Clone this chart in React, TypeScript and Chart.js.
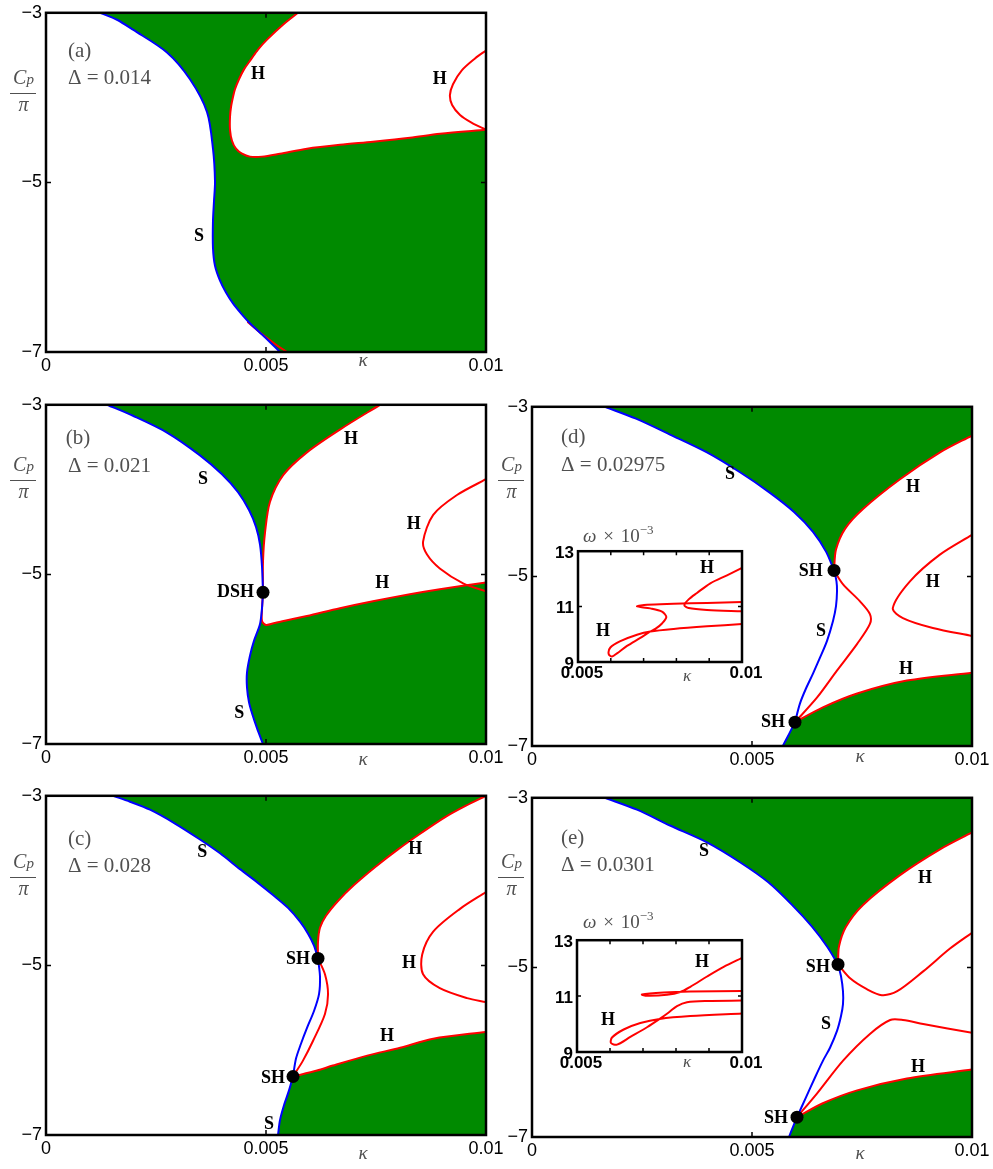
import React, { useEffect, useRef } from 'react';
import { Chart, registerables } from 'chart.js';
Chart.register(...registerables);

type P = [number, number];

const GREEN = '#008a00';
const RED = '#ff0000';
const BLUE = '#0000ff';
const GRAY = '#505050';
const TENSION = 0.3;
const SERIF = '"Liberation Serif", "Times New Roman", serif';

// ---------- axes ----------
const X_TICKS = [0, 0.005, 0.01];
const X_TICK_LABELS = ['0', '0.005', '0.01'];
const Y_TICKS = [-3, -5, -7];
const Y_TICK_LABELS = ['\u22123', '\u22125', '\u22127'];
const INSET_X_TICKS = [0.005, 0.006, 0.007, 0.008, 0.009, 0.01];
const INSET_X_TICK_LABELS = ['0.005', '', '', '', '', '0.01'];
const INSET_Y_TICKS = [9, 11, 13];
const INSET_Y_TICK_LABELS = ['9', '11', '13'];

// ---------- panel (a) Δ = 0.014 ----------
const aBlueS: P[] = [[0.001227,-3.0],[0.001614,-3.082],[0.001977,-3.199],[0.00275,-3.468],[0.003273,-3.784],[0.003659,-4.17],[0.003795,-4.602],[0.003841,-4.988],[0.003818,-5.222],[0.003795,-5.456],[0.003795,-5.772],[0.003841,-5.982],[0.003955,-6.158],[0.004091,-6.298],[0.00425,-6.427],[0.004432,-6.544],[0.004636,-6.661],[0.004977,-6.825],[0.005318,-7.0]];
const aRedTail: P[] = [[0.004591,-6.649],[0.004909,-6.789],[0.005205,-6.906],[0.005477,-7.0]];
const aRedH1: P[] = [[0.005727,-3.0],[0.005386,-3.14],[0.005023,-3.316],[0.004818,-3.433],[0.004659,-3.55],[0.0045,-3.667],[0.004386,-3.784],[0.004295,-3.901],[0.00425,-3.994],[0.004205,-4.111],[0.004182,-4.228],[0.004182,-4.38],[0.004227,-4.509],[0.004318,-4.602],[0.004455,-4.661],[0.004636,-4.696],[0.004909,-4.696],[0.005318,-4.661],[0.005932,-4.602],[0.006682,-4.556],[0.007432,-4.52],[0.008273,-4.474],[0.008955,-4.427],[0.01,-4.38]];
const aRedH2: P[] = [[0.01,-3.444],[0.00975,-3.538],[0.00945,-3.678],[0.00925,-3.842],[0.00918,-3.971],[0.00923,-4.088],[0.00941,-4.205],[0.00968,-4.298],[0.01,-4.38]];

// ---------- panel (b) Δ = 0.021 ----------
const bBlueUp: P[] = [[0.001386,-3.0],[0.001977,-3.129],[0.00275,-3.327],[0.0035,-3.596],[0.004,-3.819],[0.004364,-4.029],[0.004614,-4.24],[0.004773,-4.439],[0.004864,-4.649],[0.004909,-4.906],[0.004932,-5.211]];
const bBlueLow: P[] = [[0.004932,-5.211],[0.004909,-5.398],[0.004864,-5.585],[0.004727,-5.784],[0.004636,-5.959],[0.004568,-6.158],[0.004568,-6.333],[0.004614,-6.509],[0.004682,-6.637],[0.004795,-6.813],[0.004932,-7.0]];
const bRedUp: P[] = [[0.00759,-3.0],[0.00668,-3.292],[0.00593,-3.561],[0.00539,-3.83],[0.00509,-4.146],[0.00498,-4.497],[0.004932,-4.848],[0.004932,-5.211]];
const bRedLow: P[] = [[0.004932,-5.211],[0.00491,-5.409],[0.00491,-5.55],[0.005,-5.596],[0.0052,-5.573],[0.00593,-5.491],[0.00668,-5.398],[0.00743,-5.316],[0.00827,-5.234],[0.00895,-5.175],[0.01,-5.094]];
const bRedRight: P[] = [[0.01,-3.877],[0.00934,-4.064],[0.0088,-4.298],[0.00857,-4.614],[0.00866,-4.766],[0.00895,-4.93],[0.00948,-5.105],[0.01,-5.199]];
const bDots: P[] = [[0.004932,-5.211]];

// ---------- panel (c) Δ = 0.028 ----------
const cBlueUp: P[] = [[0.001523,-3.0],[0.001909,-3.07],[0.002364,-3.164],[0.002932,-3.327],[0.0035,-3.515],[0.003955,-3.678],[0.004409,-3.865],[0.004795,-4.018],[0.005159,-4.17],[0.0055,-4.322],[0.005773,-4.485],[0.005955,-4.626],[0.006091,-4.766],[0.006182,-4.918]];
const cBlueMid: P[] = [[0.006182,-4.918],[0.006227,-5.129],[0.006205,-5.339],[0.006091,-5.538],[0.005932,-5.737],[0.005795,-5.924],[0.005682,-6.099],[0.005614,-6.31]];
const cBlueBot: P[] = [[0.005614,-6.31],[0.005523,-6.474],[0.005409,-6.649],[0.005318,-6.825],[0.005273,-7.0]];
const cRedUp: P[] = [[0.01,-3.0],[0.009545,-3.117],[0.009091,-3.246],[0.008545,-3.433],[0.008,-3.632],[0.007477,-3.842],[0.007,-4.053],[0.006636,-4.24],[0.006364,-4.415],[0.006227,-4.556],[0.006182,-4.719],[0.006182,-4.918]];
const cRedWiggle: P[] = [[0.006182,-4.918],[0.00634,-5.105],[0.00641,-5.339],[0.00634,-5.573],[0.00607,-5.889],[0.00584,-6.123],[0.005614,-6.31]];
const cRedLow: P[] = [[0.005614,-6.31],[0.00616,-6.24],[0.00652,-6.181],[0.0073,-6.064],[0.00805,-5.971],[0.0088,-5.865],[0.01,-5.784]];
const cRedRight: P[] = [[0.01,-4.135],[0.00941,-4.333],[0.0088,-4.602],[0.00855,-4.871],[0.00857,-5.105],[0.00895,-5.269],[0.00957,-5.386],[0.01,-5.433]];
const cDots: P[] = [[0.006182,-4.918],[0.005614,-6.31]];

// ---------- panel (d) Δ = 0.02975 ----------
const dBlueUp: P[] = [[0.001659,-3.0],[0.002364,-3.14],[0.003136,-3.327],[0.003977,-3.538],[0.004727,-3.772],[0.005386,-4.006],[0.005955,-4.24],[0.006386,-4.474],[0.006682,-4.708],[0.006864,-4.93]];
const dBlueMid: P[] = [[0.006864,-4.93],[0.00692,-5.058],[0.006932,-5.175],[0.006909,-5.351],[0.006841,-5.526],[0.006705,-5.76],[0.006545,-5.959],[0.006386,-6.146],[0.006227,-6.322],[0.006091,-6.497],[0.005977,-6.719]];
const dBlueBot: P[] = [[0.005977,-6.719],[0.005841,-6.86],[0.0057,-7.0]];
const dRedUp: P[] = [[0.01,-3.339],[0.009273,-3.538],[0.008364,-3.854],[0.007523,-4.205],[0.007114,-4.439],[0.006909,-4.684],[0.006864,-4.93]];
const dRedMid: P[] = [[0.006864,-4.93],[0.00707,-5.094],[0.00745,-5.292],[0.00768,-5.444],[0.00768,-5.561],[0.00739,-5.795],[0.00693,-6.111],[0.00648,-6.427],[0.005977,-6.719]];
const dRedLow: P[] = [[0.005977,-6.719],[0.00661,-6.544],[0.00739,-6.38],[0.00852,-6.228],[0.01,-6.135]];
const dRedRight: P[] = [[0.01,-4.509],[0.00927,-4.743],[0.00859,-5.058],[0.0082,-5.374],[0.00843,-5.491],[0.00911,-5.608],[0.01,-5.702]];
const dDots: P[] = [[0.006864,-4.93],[0.005977,-6.719]];

// ---------- panel (e) Δ = 0.0301 ----------
const eBlueUp: P[] = [[0.001659,-3.0],[0.002386,-3.14],[0.003136,-3.327],[0.003977,-3.526],[0.004727,-3.76],[0.005364,-3.994],[0.005909,-4.263],[0.006364,-4.52],[0.006705,-4.754],[0.006955,-4.965]];
const eBlueMid: P[] = [[0.006955,-4.965],[0.007023,-5.105],[0.007068,-5.281],[0.007068,-5.433],[0.007023,-5.573],[0.006932,-5.749],[0.006773,-5.947],[0.006614,-6.099],[0.006432,-6.298],[0.006227,-6.532],[0.006023,-6.766]];
const eBlueBot: P[] = [[0.006023,-6.766],[0.005932,-6.88],[0.005841,-7.0]];
const eRedUp: P[] = [[0.01,-3.409],[0.009273,-3.608],[0.008364,-3.912],[0.007523,-4.263],[0.007136,-4.52],[0.006977,-4.754],[0.006955,-4.965]];
const eRedMidUp: P[] = [[0.006955,-4.965],[0.00723,-5.129],[0.00761,-5.257],[0.00795,-5.327],[0.0083,-5.281],[0.00889,-5.047],[0.0095,-4.778],[0.01,-4.591]];
const eRedMidLow: P[] = [[0.006023,-6.766],[0.00648,-6.485],[0.00707,-6.099],[0.00768,-5.784],[0.00814,-5.62],[0.00843,-5.62],[0.00889,-5.667],[0.01,-5.772]];
const eRedLow: P[] = [[0.006023,-6.766],[0.00661,-6.602],[0.00739,-6.45],[0.00852,-6.31],[0.01,-6.205]];
const eDots: P[] = [[0.006955,-4.965],[0.006023,-6.766]];

// ---------- insets: ω (×10^-3) vs κ ----------
const insetD1: P[] = [[0.01,12.397],[0.009543,12.13],[0.009035,11.841],[0.008628,11.493],[0.008374,11.261],[0.008242,11.052],[0.008374,10.948],[0.008933,10.878],[0.01,10.832]];
const insetD2: P[] = [[0.01,11.168],[0.008933,11.133],[0.007917,11.099],[0.007104,11.064],[0.006799,11.006],[0.007205,10.936],[0.007561,10.82],[0.007693,10.623],[0.007561,10.391],[0.007358,10.194],[0.007205,10.101],[0.0069,9.87],[0.006494,9.58],[0.006189,9.313],[0.006037,9.197],[0.005935,9.29],[0.005986,9.522],[0.006291,9.754],[0.006799,9.986],[0.007205,10.101],[0.007917,10.194],[0.008933,10.287],[0.01,10.368]];
const insetE1: P[] = [[0.01,11.184],[0.008434,11.161],[0.007626,11.126],[0.00697,11.057],[0.007121,11.012],[0.007727,11.046],[0.008131,11.149],[0.008434,11.333],[0.00894,11.701],[0.009444,12.046],[0.01,12.368]];
const insetE2: P[] = [[0.01,10.839],[0.00894,10.828],[0.008333,10.782],[0.00803,10.644],[0.007778,10.414],[0.007505,10.184],[0.007121,9.885],[0.006616,9.54],[0.006212,9.264],[0.00603,9.322],[0.006061,9.517],[0.006414,9.805],[0.006919,10.035],[0.007505,10.184],[0.008434,10.287],[0.01,10.379]];

// frame corners used to close the shaded regions
const CORNER_BR: P[] = [[0.01, -7]];
const CORNER_TR: P[] = [[0.01, -3]];

type Label = { text: string; x: number; y: number; kind?: 'tag' | 'bold'; align?: 'left' | 'center' | 'right' };

const aLabels: Label[] = [
  { text: '(a)', x: 0.0005, y: -3.456, kind: 'tag', align: 'left' },
  { text: '\u0394 = 0.014', x: 0.0005, y: -3.778, kind: 'tag', align: 'left' },
  { text: 'H', x: 0.00482, y: -3.725 },
  { text: 'H', x: 0.00895, y: -3.784 },
  { text: 'S', x: 0.00348, y: -5.632 },
];
const bLabels: Label[] = [
  { text: '(b)', x: 0.00045, y: -3.398, kind: 'tag', align: 'left' },
  { text: '\u0394 = 0.021', x: 0.0005, y: -3.725, kind: 'tag', align: 'left' },
  { text: 'S', x: 0.00357, y: -3.877 },
  { text: 'H', x: 0.00693, y: -3.409 },
  { text: 'H', x: 0.00836, y: -4.415 },
  { text: 'H', x: 0.00764, y: -5.105 },
  { text: 'DSH', x: 0.00473, y: -5.211, align: 'right' },
  { text: 'S', x: 0.00439, y: -6.637 },
];
const cLabels: Label[] = [
  { text: '(c)', x: 0.0005, y: -3.515, kind: 'tag', align: 'left' },
  { text: '\u0394 = 0.028', x: 0.0005, y: -3.83, kind: 'tag', align: 'left' },
  { text: 'S', x: 0.00355, y: -3.67 },
  { text: 'H', x: 0.00839, y: -3.632 },
  { text: 'H', x: 0.00825, y: -4.977 },
  { text: 'H', x: 0.00775, y: -5.842 },
  { text: 'SH', x: 0.006, y: -4.93, align: 'right' },
  { text: 'SH', x: 0.00543, y: -6.333, align: 'right' },
  { text: 'S', x: 0.00507, y: -6.871 },
];
const dLabels: Label[] = [
  { text: '(d)', x: 0.00066, y: -3.363, kind: 'tag', align: 'left' },
  { text: '\u0394 = 0.02975', x: 0.00066, y: -3.69, kind: 'tag', align: 'left' },
  { text: 'S', x: 0.0045, y: -3.795 },
  { text: 'H', x: 0.00866, y: -3.947 },
  { text: 'H', x: 0.00911, y: -5.07 },
  { text: 'S', x: 0.00657, y: -5.643 },
  { text: 'H', x: 0.0085, y: -6.099 },
  { text: 'SH', x: 0.00661, y: -4.942, align: 'right' },
  { text: 'SH', x: 0.00575, y: -6.719, align: 'right' },
];
const eLabels: Label[] = [
  { text: '(e)', x: 0.00066, y: -3.48, kind: 'tag', align: 'left' },
  { text: '\u0394 = 0.0301', x: 0.00066, y: -3.795, kind: 'tag', align: 'left' },
  { text: 'S', x: 0.00391, y: -3.632 },
  { text: 'H', x: 0.00893, y: -3.947 },
  { text: 'S', x: 0.00668, y: -5.667 },
  { text: 'H', x: 0.00877, y: -6.181 },
  { text: 'SH', x: 0.00677, y: -5.0, align: 'right' },
  { text: 'SH', x: 0.00582, y: -6.778, align: 'right' },
];
const insetDLabels: Label[] = [
  { text: 'H', x: 0.00893, y: 12.37 },
  { text: 'H', x: 0.00576, y: 10.11 },
];
const insetELabels: Label[] = [
  { text: 'H', x: 0.00879, y: 12.21 },
  { text: 'H', x: 0.00594, y: 10.14 },
];

// ---------- helpers ----------
const piece = (a: P[]): P[] => [a[0], ...a, a[a.length - 1]];
const shape = (...parts: P[][]): P[] => parts.flatMap(piece);
const rev = (a: P[]): P[] => [...a].reverse();
const toXY = (a: P[]) => a.map(([x, y]) => ({ x, y }));

type Spec = { regions: P[][]; lines: { data: P[]; color: string }[]; dots: P[]; labels: Label[] };

const specA: Spec = {
  regions: [shape(aBlueS, CORNER_BR, rev(aRedH1))],
  lines: [{ data: aBlueS, color: BLUE }, { data: aRedTail, color: RED }, { data: aRedH1, color: RED }, { data: aRedH2, color: RED }],
  dots: [],
  labels: aLabels,
};
const specB: Spec = {
  regions: [shape(bBlueUp, rev(bRedUp)), shape(bRedLow, CORNER_BR, rev(bBlueLow))],
  lines: [{ data: bBlueUp, color: BLUE }, { data: bBlueLow, color: BLUE }, { data: bRedUp, color: RED }, { data: bRedLow, color: RED }, { data: bRedRight, color: RED }],
  dots: bDots,
  labels: bLabels,
};
const specC: Spec = {
  regions: [shape(cBlueUp, rev(cRedUp)), shape(cRedLow, CORNER_BR, rev(cBlueBot))],
  lines: [{ data: cBlueUp, color: BLUE }, { data: cBlueMid, color: BLUE }, { data: cBlueBot, color: BLUE }, { data: cRedUp, color: RED }, { data: cRedWiggle, color: RED }, { data: cRedLow, color: RED }, { data: cRedRight, color: RED }],
  dots: cDots,
  labels: cLabels,
};
const specD: Spec = {
  regions: [shape(dBlueUp, rev(dRedUp), CORNER_TR), shape(dRedLow, CORNER_BR, rev(dBlueBot))],
  lines: [{ data: dBlueUp, color: BLUE }, { data: dBlueMid, color: BLUE }, { data: dBlueBot, color: BLUE }, { data: dRedUp, color: RED }, { data: dRedMid, color: RED }, { data: dRedLow, color: RED }, { data: dRedRight, color: RED }],
  dots: dDots,
  labels: dLabels,
};
const specE: Spec = {
  regions: [shape(eBlueUp, rev(eRedUp), CORNER_TR), shape(eRedLow, CORNER_BR, rev(eBlueBot))],
  lines: [{ data: eBlueUp, color: BLUE }, { data: eBlueMid, color: BLUE }, { data: eBlueBot, color: BLUE }, { data: eRedUp, color: RED }, { data: eRedMidUp, color: RED }, { data: eRedMidLow, color: RED }, { data: eRedLow, color: RED }],
  dots: eDots,
  labels: eLabels,
};
const specInsetD: Spec = { regions: [], lines: [{ data: insetD1, color: RED }, { data: insetD2, color: RED }], dots: [], labels: insetDLabels };
const specInsetE: Spec = { regions: [], lines: [{ data: insetE1, color: RED }, { data: insetE2, color: RED }], dots: [], labels: insetELabels };

type Axes = {
  xMin: number; xMax: number; yMin: number; yMax: number;
  xTicks: number[]; xLabels: string[]; yTicks: number[]; yLabels: string[];
  fontSize: number; fontWeight: string; yAxisW: number; xAxisH: number; padTop: number; padRight: number;
  xPad: number; yPad: number; xLabelOffset: number; yLabelOffset: number;
  frameW: number; tickLen: number; whiteBg: boolean;
};

const MAIN_AXES: Axes = {
  xMin: 0, xMax: 0.01, yMin: -7, yMax: -3,
  xTicks: X_TICKS, xLabels: X_TICK_LABELS, yTicks: Y_TICKS, yLabels: Y_TICK_LABELS,
  fontSize: 18, fontWeight: 'normal', yAxisW: 46, xAxisH: 40, padTop: 12, padRight: 32,
  xPad: 3, yPad: 4, xLabelOffset: 0, yLabelOffset: 0, frameW: 2.5, tickLen: 5, whiteBg: false,
};
const INSET_AXES: Axes = {
  xMin: 0.005, xMax: 0.01, yMin: 9, yMax: 13,
  xTicks: INSET_X_TICKS, xLabels: INSET_X_TICK_LABELS, yTicks: INSET_Y_TICKS, yLabels: INSET_Y_TICK_LABELS,
  fontSize: 17, fontWeight: 'bold', yAxisW: 40, xAxisH: 24, padTop: 10, padRight: 24,
  xPad: 1, yPad: 4, xLabelOffset: 4, yLabelOffset: 2, frameW: 2.5, tickLen: 4, whiteBg: true,
};

function createChart(canvas: HTMLCanvasElement, spec: Spec, ax: Axes) {
  const datasets: any[] = [];
  for (const r of spec.regions) {
    datasets.push({ data: toXY(r), showLine: true, fill: 'shape', backgroundColor: GREEN, borderWidth: 0, pointRadius: 0, tension: TENSION, order: 3 });
  }
  for (const l of spec.lines) {
    datasets.push({ data: toXY(l.data), showLine: true, fill: false, borderColor: l.color, backgroundColor: l.color, borderWidth: 2, pointRadius: 0, tension: TENSION, order: 2, borderCapStyle: 'round', borderJoinStyle: 'round' });
  }
  if (spec.dots.length) {
    datasets.push({ data: toXY(spec.dots), showLine: false, pointRadius: 6.5, pointBackgroundColor: '#000', pointBorderWidth: 0, backgroundColor: '#000', order: 1 });
  }
  const overlay = {
    id: 'overlay',
    beforeDatasetsDraw(chart: any) {
      if (!ax.whiteBg) return;
      const { ctx, chartArea: a } = chart;
      ctx.save();
      ctx.fillStyle = '#fff';
      ctx.fillRect(a.left, a.top, a.right - a.left, a.bottom - a.top);
      ctx.restore();
    },
    afterDatasetsDraw(chart: any) {
      const { ctx, chartArea: a, scales } = chart;
      ctx.save();
      ctx.strokeStyle = '#000';
      ctx.lineWidth = 1.5;
      ctx.beginPath();
      for (const v of ax.xTicks) {
        const px = scales.x.getPixelForValue(v);
        ctx.moveTo(px, a.bottom); ctx.lineTo(px, a.bottom - ax.tickLen);
        ctx.moveTo(px, a.top); ctx.lineTo(px, a.top + ax.tickLen);
      }
      for (const v of ax.yTicks) {
        const py = scales.y.getPixelForValue(v);
        ctx.moveTo(a.left, py); ctx.lineTo(a.left + ax.tickLen, py);
        ctx.moveTo(a.right, py); ctx.lineTo(a.right - ax.tickLen, py);
      }
      ctx.stroke();
      ctx.lineWidth = ax.frameW;
      ctx.strokeRect(a.left, a.top, a.right - a.left, a.bottom - a.top);
      ctx.textBaseline = 'middle';
      for (const lb of spec.labels) {
        const px = scales.x.getPixelForValue(lb.x);
        const py = scales.y.getPixelForValue(lb.y);
        if (lb.kind === 'tag') {
          ctx.font = `21px ${SERIF}`;
          ctx.fillStyle = GRAY;
        } else {
          ctx.font = `bold 18px ${SERIF}`;
          ctx.fillStyle = '#000';
        }
        ctx.textAlign = lb.align || 'center';
        ctx.fillText(lb.text, px, py);
      }
      ctx.restore();
    },
  };
  const tickFont = { family: '"Liberation Sans", Arial, sans-serif', size: ax.fontSize, weight: ax.fontWeight };
  return new Chart(canvas, {
    type: 'scatter',
    data: { datasets },
    options: {
      responsive: false,
      animation: false,
      devicePixelRatio: 1,
      events: [],
      layout: { padding: { left: 0, top: ax.padTop, right: ax.padRight, bottom: 0 } },
      elements: { line: { capBezierPoints: false } },
      plugins: { legend: { display: false }, tooltip: { enabled: false }, title: { display: false } },
      scales: {
        x: {
          type: 'linear', min: ax.xMin, max: ax.xMax,
          afterBuildTicks: (s: any) => { s.ticks = ax.xTicks.map((v) => ({ value: v })); },
          afterFit: (s: any) => { s.height = ax.xAxisH; },
          ticks: {
            autoSkip: false, maxRotation: 0, minRotation: 0, padding: ax.xPad, color: '#000',
            font: tickFont, labelOffset: ax.xLabelOffset,
            callback: (_v: any, i: number) => ax.xLabels[i],
          },
          grid: { display: false, drawTicks: false },
          border: { display: false },
        },
        y: {
          type: 'linear', min: ax.yMin, max: ax.yMax,
          afterBuildTicks: (s: any) => { s.ticks = ax.yTicks.map((v) => ({ value: v })); },
          afterFit: (s: any) => { s.width = ax.yAxisW; },
          ticks: {
            autoSkip: false, padding: ax.yPad, color: '#000',
            font: tickFont, labelOffset: ax.yLabelOffset,
            callback: (_v: any, i: number) => ax.yLabels[i],
          },
          grid: { display: false, drawTicks: false },
          border: { display: false },
        },
      },
    } as any,
    plugins: [overlay as any],
  });
}

function ChartCanvas({ L, T, W, H, spec, ax }: { L: number; T: number; W: number; H: number; spec: Spec; ax: Axes }) {
  const ref = useRef<HTMLCanvasElement>(null);
  const cw = ax.yAxisW + W + ax.padRight;
  const ch = ax.padTop + H + ax.xAxisH;
  useEffect(() => {
    const chart = createChart(ref.current!, spec, ax);
    return () => chart.destroy();
  }, []);
  return (
    <canvas
      ref={ref}
      width={cw}
      height={ch}
      style={{ position: 'absolute', left: L - ax.yAxisW, top: T - ax.padTop, width: cw, height: ch }}
    />
  );
}

function Frac({ left, barY }: { left: number; barY: number }) {
  const base: React.CSSProperties = { position: 'absolute', left, width: 25, textAlign: 'center', fontFamily: SERIF, fontStyle: 'italic', fontSize: 20, lineHeight: '20px', color: GRAY, whiteSpace: 'nowrap' };
  return (
    <>
      <div style={{ ...base, top: barY - 26 }}>C<span style={{ fontSize: 15 }}>p</span></div>
      <div style={{ position: 'absolute', left: left - 1, top: barY, width: 26, height: 0, borderTop: `1px solid ${GRAY}` }} />
      <div style={{ ...base, top: barY + 1 }}>π</div>
    </>
  );
}

function Kappa({ cx, cy, size = 19 }: { cx: number; cy: number; size?: number }) {
  return (
    <div style={{ position: 'absolute', left: cx - 10, top: cy - size * 0.61, width: 20, textAlign: 'center', fontFamily: SERIF, fontStyle: 'italic', fontSize: size, lineHeight: `${size}px`, color: GRAY }}>κ</div>
  );
}

function OmegaTitle({ left, baseline }: { left: number; baseline: number }) {
  return (
    <div style={{ position: 'absolute', left, top: baseline - 15.9, fontFamily: SERIF, fontSize: 19, lineHeight: '19px', color: GRAY, whiteSpace: 'nowrap', wordSpacing: 2 }}>
      <i>ω</i> × 10<span style={{ position: 'relative', top: -8, fontSize: 13 }}>−3</span>
    </div>
  );
}

export default function App() {
  return (
    <div style={{ position: 'absolute', left: 0, top: 0, width: 993, height: 1169, background: '#fff', overflow: 'hidden' }}>
      <ChartCanvas L={46} T={10} W={440} H={342} spec={specA} ax={MAIN_AXES} />
      <ChartCanvas L={46} T={402} W={440} H={342} spec={specB} ax={MAIN_AXES} />
      <ChartCanvas L={46} T={793} W={440} H={342} spec={specC} ax={MAIN_AXES} />
      <ChartCanvas L={532} T={404} W={440} H={342} spec={specD} ax={MAIN_AXES} />
      <ChartCanvas L={532} T={795} W={440} H={342} spec={specE} ax={MAIN_AXES} />
      <ChartCanvas L={578} T={547} W={164} H={115} spec={specInsetD} ax={INSET_AXES} />
      <ChartCanvas L={577} T={936} W={165} H={116} spec={specInsetE} ax={INSET_AXES} />

      <Frac left={11} barY={93} />
      <Frac left={11} barY={480} />
      <Frac left={11} barY={877} />
      <Frac left={499} barY={480} />
      <Frac left={499} barY={877} />

      <Kappa cx={363} cy={362} />
      <Kappa cx={363} cy={761} />
      <Kappa cx={363} cy={1155} />
      <Kappa cx={860} cy={758} />
      <Kappa cx={860} cy={1155} />
      <Kappa cx={687} cy={677} size={17} />
      <Kappa cx={687} cy={1063} size={17} />

      <OmegaTitle left={583} baseline={542} />
      <OmegaTitle left={583} baseline={928} />
    </div>
  );
}
